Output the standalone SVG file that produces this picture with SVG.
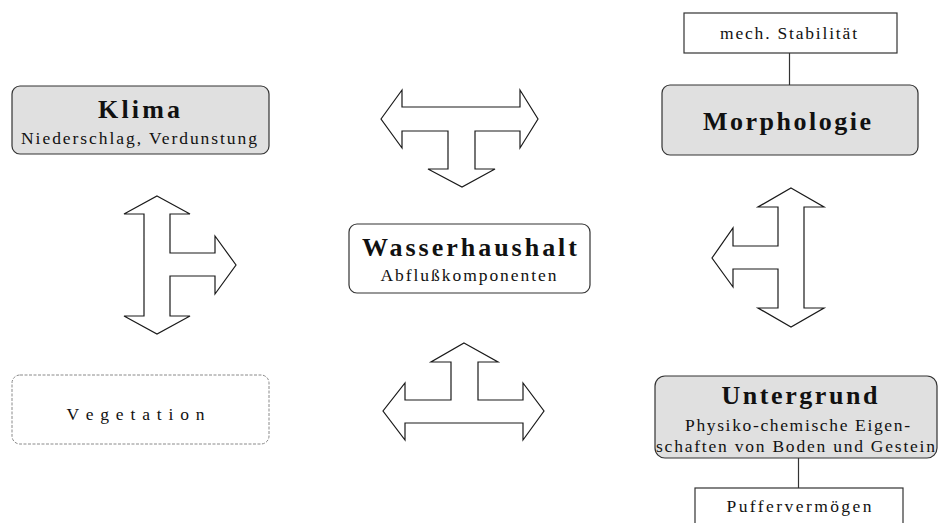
<svg xmlns="http://www.w3.org/2000/svg" width="940" height="523" viewBox="0 0 940 523">
  <style>
    .box { stroke: #333333; stroke-width: 1.2; }
    .grey { fill: #e0e0e0; }
    .white { fill: #ffffff; }
    .dashed { fill: #ffffff; stroke: #8a8a8a; stroke-width: 1; stroke-dasharray: 3 1.5; }
    .arrow { fill: #ffffff; stroke: #1a1a1a; stroke-width: 1.2; stroke-linejoin: miter; }
    .link { stroke: #333333; stroke-width: 1.2; fill: none; }
    text { font-family: "Liberation Serif", "Times New Roman", serif; fill: #111111; }
    .title { font-size: 26px; font-weight: bold; }
    .sub { font-size: 17.5px; }
  </style>

  <!-- Klima -->
  <g id="klima">
    <rect class="box grey" x="12" y="86" width="257" height="68" rx="8"/>
    <text class="title" x="98" y="118" textLength="82" lengthAdjust="spacing">Klima</text>
    <text class="sub" x="21" y="144" textLength="236" lengthAdjust="spacing">Niederschlag, Verdunstung</text>
  </g>

  <!-- mech. Stabilität -->
  <g id="stabilitaet">
    <rect class="box white" x="684" y="13" width="213" height="40"/>
    <text class="sub" x="720" y="39" textLength="137" lengthAdjust="spacing">mech. Stabilität</text>
  </g>

  <!-- Morphologie -->
  <g id="morphologie">
    <rect class="box grey" x="662" y="85" width="256" height="70" rx="8"/>
    <text class="title" x="703" y="130" textLength="168" lengthAdjust="spacing">Morphologie</text>
  </g>

  <!-- Wasserhaushalt -->
  <g id="wasserhaushalt">
    <rect class="box white" x="349" y="224" width="241" height="69" rx="8"/>
    <text class="title" x="362" y="256" textLength="215" lengthAdjust="spacing">Wasserhaushalt</text>
    <text class="sub" x="380.5" y="281" textLength="176" lengthAdjust="spacing">Abflußkomponenten</text>
  </g>

  <!-- Vegetation -->
  <g id="vegetation">
    <rect class="dashed" x="12" y="375" width="257" height="69" rx="8"/>
    <text class="sub" x="66.5" y="420" textLength="138" lengthAdjust="spacing">V e g e t a t i o n</text>
  </g>

  <!-- Untergrund -->
  <g id="untergrund">
    <rect class="box grey" x="655" y="376" width="282" height="82" rx="10"/>
    <text class="title" x="721.5" y="404" textLength="156" lengthAdjust="spacing">Untergrund</text>
    <text class="sub" x="685" y="431" textLength="225" lengthAdjust="spacing">Physiko-chemische Eigen-</text>
    <text class="sub" x="656" y="452" textLength="279" lengthAdjust="spacing">schaften von Boden und Gestein</text>
  </g>

  <!-- Puffervermögen -->
  <g id="puffervermoegen">
    <rect class="box white" x="695" y="488" width="208" height="45"/>
    <text class="sub" x="726.5" y="512" textLength="145" lengthAdjust="spacing">Puffervermögen</text>
  </g>

  <!-- connectors: attachment lines and block arrows -->
  <g id="connectors">
    <line class="link" x1="789.5" y1="53" x2="789.5" y2="85"/>
    <line class="link" x1="798.5" y1="458" x2="798.5" y2="488"/>

    <!-- top: left/right with branch down -->
    <polygon class="arrow" points="381,119 402,90 402,107 520,107 520,90 538,119 520,148 520,131 475,131 475,169 495,169 462,187 428,169 448,169 448,131 402,131 402,148"/>

    <!-- left: up/down with branch right -->
    <polygon class="arrow" points="157,196 190,214 170,214 170,253 215,253 215,236 236,265 215,294 215,276 170,276 170,316 190,316 157,334 124,316 144,316 144,214 124,214"/>

    <!-- right: up/down with branch left -->
    <polygon class="arrow" points="791,188 824,207 804,207 804,308 824,308 791,327 758,308 778,308 778,269 733,269 733,287 712,258 733,228 733,246 778,246 778,207 758,207"/>

    <!-- bottom: left/right with branch up -->
    <polygon class="arrow" points="464,343 498,362 478,362 478,400 523,400 523,383 544,411 523,440 523,423 405,423 405,440 383,411 405,383 405,400 451,400 451,362 431,362"/>
  </g>
</svg>
